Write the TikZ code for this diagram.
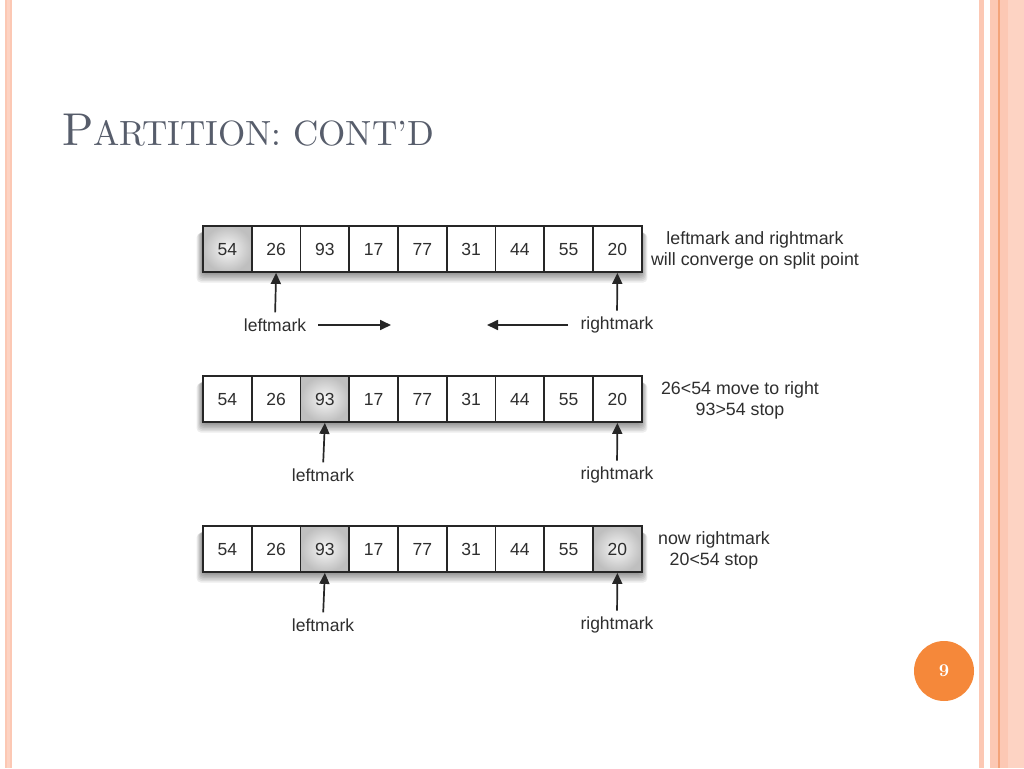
\documentclass[tikz,border=0pt]{standalone}
\usepackage{fontspec}
\newfontfamily\diag{Liberation Sans}
\newfontfamily\ttl{lmroman10-regular}[Extension=.otf, BoldFont=lmroman10-bold]
\usetikzlibrary{arrows.meta}
\definecolor{titlegray}{HTML}{575D6B}
\definecolor{txt}{HTML}{2E2E2E}
\definecolor{salmon}{HTML}{FCC8B4}
\definecolor{salmonl}{HTML}{FDD3C3}
\definecolor{orangeline}{HTML}{F3A37A}
\definecolor{badge}{HTML}{F5883A}
\tikzset{
  cell/.style={draw=black!85, line width=1.8pt, fill=white, minimum width=48.75pt, minimum height=46pt, inner sep=0pt, text height=12.5pt, text depth=0pt, font=\diag\fontsize{17.5}{20}\selectfont, text=txt},
  hot/.style={shading=radial, inner color=gray!6, outer color=gray!50},
  lbl/.style={font=\diag\fontsize{17.5}{20}\selectfont, text=txt, inner sep=1pt},
  note/.style={font=\diag\fontsize{17.8}{21}\selectfont, text=txt, align=center, inner sep=0pt},
  arr/.style={draw=black!85, line width=1.7pt, -{Triangle[length=11pt,width=10pt]}},
}
\begin{document}
\begin{tikzpicture}[x=1pt,y=-1pt]
\useasboundingbox (0,0) rectangle (1024,768);
\fill[white] (0,0) rectangle (1024,768);
% borders
\fill[salmon] (5,0) rectangle (12,768);
\fill[salmonl] (7,0) rectangle (10,768);
\fill[salmon] (979,0) rectangle (984,768);
\fill[salmon] (990,0) rectangle (1024,768);
\fill[salmonl] (1008,0) rectangle (1024,768);
\fill[orangeline] (998,0) rectangle (999.5,768);
% title
\node[anchor=base west, text=titlegray, inner sep=0pt] (title) at (62,145)
  {\ttl\fontsize{46}{50}\selectfont P\fontsize{35}{40}\selectfont ARTITION: CONT’D};
% rows
\foreach \r/\yc in {1/249,2/399,3/549}{
  \foreach \k in {1,...,7}{
    \fill[black, opacity=0.07, rounded corners=4pt] (203-\k*0.9,\yc-20+\k*0.6) rectangle (641+\k*0.9,\yc+23+\k*1.5);
  }
}
\foreach \r/\yc/\hi in {1/249/1,2/399/3,3/549/3}{
  \foreach \v [count=\i] in {54,26,93,17,77,31,44,55,20}{
    \pgfmathsetmacro{\xc}{203+48.75*(\i-0.5)}
    \ifnum\i=\hi
      \node[cell, hot] (r\r c\i) at (\xc,\yc) {\v};
    \else
      \node[cell] (r\r c\i) at (\xc,\yc) {\v};
    \fi
  }
}
\node[cell, hot] (r3c9x) at (r3c9) {20};
% labels row 1
\node[lbl] (lm1) at (275,325) {leftmark};
\node[lbl] (rm1) at (617,325) {rightmark};
\draw[arr, shorten <=5pt] (lm1.north) -- (r1c2.south);
\draw[arr, shorten <=5pt] (rm1.north) -- (r1c9.south);
\coordinate (ra1) at (318,325); \coordinate (ra2) at (391,325);
\coordinate (la1) at (568,325); \coordinate (la2) at (487,325);
\draw[arr] (ra1) -- (ra2);
\draw[arr] (la1) -- (la2);
\node[note] (n1) at (755,250) {leftmark and rightmark\\will converge on split point};
% row 2
\node[lbl] (lm2) at (323,475) {leftmark};
\node[lbl] (rm2) at (617,475) {rightmark};
\draw[arr, shorten <=5pt] (lm2.north) -- (r2c3.south);
\draw[arr, shorten <=5pt] (rm2.north) -- (r2c9.south);
\node[note] (n2) at (740,400) {26<54 move to right\\93>54 stop};
% row 3
\node[lbl] (lm3) at (323,625) {leftmark};
\node[lbl] (rm3) at (617,625) {rightmark};
\draw[arr, shorten <=5pt] (lm3.north) -- (r3c3.south);
\draw[arr, shorten <=5pt] (rm3.north) -- (r3c9x.south);
\node[note] (n3) at (714,550) {now rightmark\\20<54 stop};
% page number
\node[circle, fill=badge, minimum size=60pt, text=white, font=\ttl\bfseries\fontsize{18}{20}\selectfont] (pg) at (944,671) {9};
\end{tikzpicture}
\end{document}
